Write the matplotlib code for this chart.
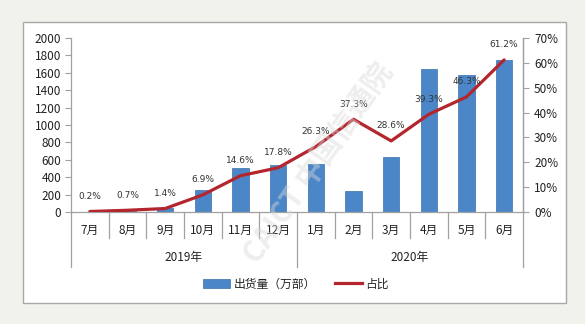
import matplotlib
matplotlib.use("Agg")
import matplotlib.pyplot as plt
from matplotlib.patches import Rectangle, Patch
from matplotlib.lines import Line2D
from matplotlib.ticker import FuncFormatter
import matplotlib.transforms as mtransforms

plt.rcParams['font.family'] = ['Noto Sans CJK SC', 'DejaVu Sans']

months = ['7月', '8月', '9月', '10月', '11月', '12月', '1月', '2月', '3月', '4月', '5月', '6月']
years = ['2019年', '2020年']
shipments = [5, 21, 50, 249, 507, 543, 546, 238, 632, 1638, 1578, 1751]
share = [0.2, 0.7, 1.4, 6.9, 14.6, 17.8, 26.3, 37.3, 28.6, 39.3, 46.3, 61.2]
bar_label = '出货量（万部）'
line_label = '占比'

W, H = 585, 324
fig = plt.figure(figsize=(W / 100, H / 100), dpi=100)
fig.patch.set_facecolor('#f2f2ec')

# white panel
fig.patches.append(Rectangle((23 / W, 1 - 303 / H), 543 / W, 281 / H,
                             transform=fig.transFigure, facecolor='white',
                             edgecolor='#a8a8a8', linewidth=1.0, zorder=-5))

ax = fig.add_axes([71 / W, 1 - 212 / H, (523 - 71) / W, (212 - 38) / H])
ax.set_facecolor('none')
x = list(range(len(months)))
ax.bar(x, shipments, width=0.43, color='#4a86c8', edgecolor='#3b70aa', linewidth=0.5, zorder=2)
ax.set_xlim(-0.5, len(months) - 0.5)
ax.set_ylim(0, 2000)
ax.set_yticks(range(0, 2001, 200))
ax.set_xticks([])
for s in ['top']:
    ax.spines[s].set_visible(False)
for s in ['left', 'right', 'bottom']:
    ax.spines[s].set_color('#a0a0a0')
    ax.spines[s].set_linewidth(0.9)
ax.tick_params(axis='y', direction='out', length=4, color='#a0a0a0', labelsize=8.5,
               labelcolor='#222222', pad=3)

ax2 = ax.twinx()
ax2.plot(x, share, color='#b3262e', linewidth=2.3, zorder=3, solid_capstyle='round')
ax2.set_ylim(0, 70)
ax2.set_yticks(range(0, 71, 10))
ax2.yaxis.set_major_formatter(FuncFormatter(lambda v, p: f'{int(v)}%'))
ax2.tick_params(axis='y', direction='out', length=4, color='#a0a0a0', labelsize=8.5,
                labelcolor='#222222', pad=4)
for s in ['top', 'left', 'bottom']:
    ax2.spines[s].set_visible(False)
ax2.spines['right'].set_color('#a0a0a0')
ax2.spines['right'].set_linewidth(0.9)

for xi, v in zip(x, share):
    ax2.annotate(f'{v}%', (xi, v), xytext=(0, 15), textcoords='offset pixels',
                 ha='center', va='center', fontsize=6.5, color='#333333',
                 family=['DejaVu Sans'], zorder=4)

# category axis
trans = mtransforms.blended_transform_factory(ax.transData, ax.transAxes)
axh = 212 - 38
for xi, m in zip(x, months):
    ax.text(xi, -(230 - 212) / axh, m, transform=trans, ha='center', va='center',
            fontsize=8.5, color='#222222')
for b in range(len(months) + 1):
    xb = b - 0.5
    if b in (0, 6, 12):
        y1 = -(267 - 212) / axh
    else:
        y1 = -(238 - 212) / axh
    ax.add_line(Line2D([xb, xb], [0, y1], transform=trans, color='#a0a0a0',
                       linewidth=0.9, clip_on=False))
for i, yl in enumerate(years):
    ax.text(2.5 + 6 * i, -(257 - 212) / axh, yl, transform=trans, ha='center',
            va='center', fontsize=8.5, color='#222222')

# watermark
fig.text(318 / W, 1 - 163 / H, 'CAICT 中国信通院', rotation=55, ha='center', va='center',
         fontsize=21, color='#d9d9d9', alpha=0.45, fontweight='bold', zorder=5)

handles = [Patch(facecolor='#4a86c8', edgecolor='#3b70aa', linewidth=0.5),
           Line2D([0], [0], color='#b3262e', linewidth=2.3)]
fig.legend(handles, [bar_label, line_label], loc='center', ncol=2,
           bbox_to_anchor=(296 / W, 1 - 284 / H), frameon=False, fontsize=8.5,
           handlelength=2.3, handleheight=0.8, handletextpad=0.3, columnspacing=1.6,
           labelcolor='#222222')

fig.savefig('out.png', dpi=100, facecolor=fig.get_facecolor())
